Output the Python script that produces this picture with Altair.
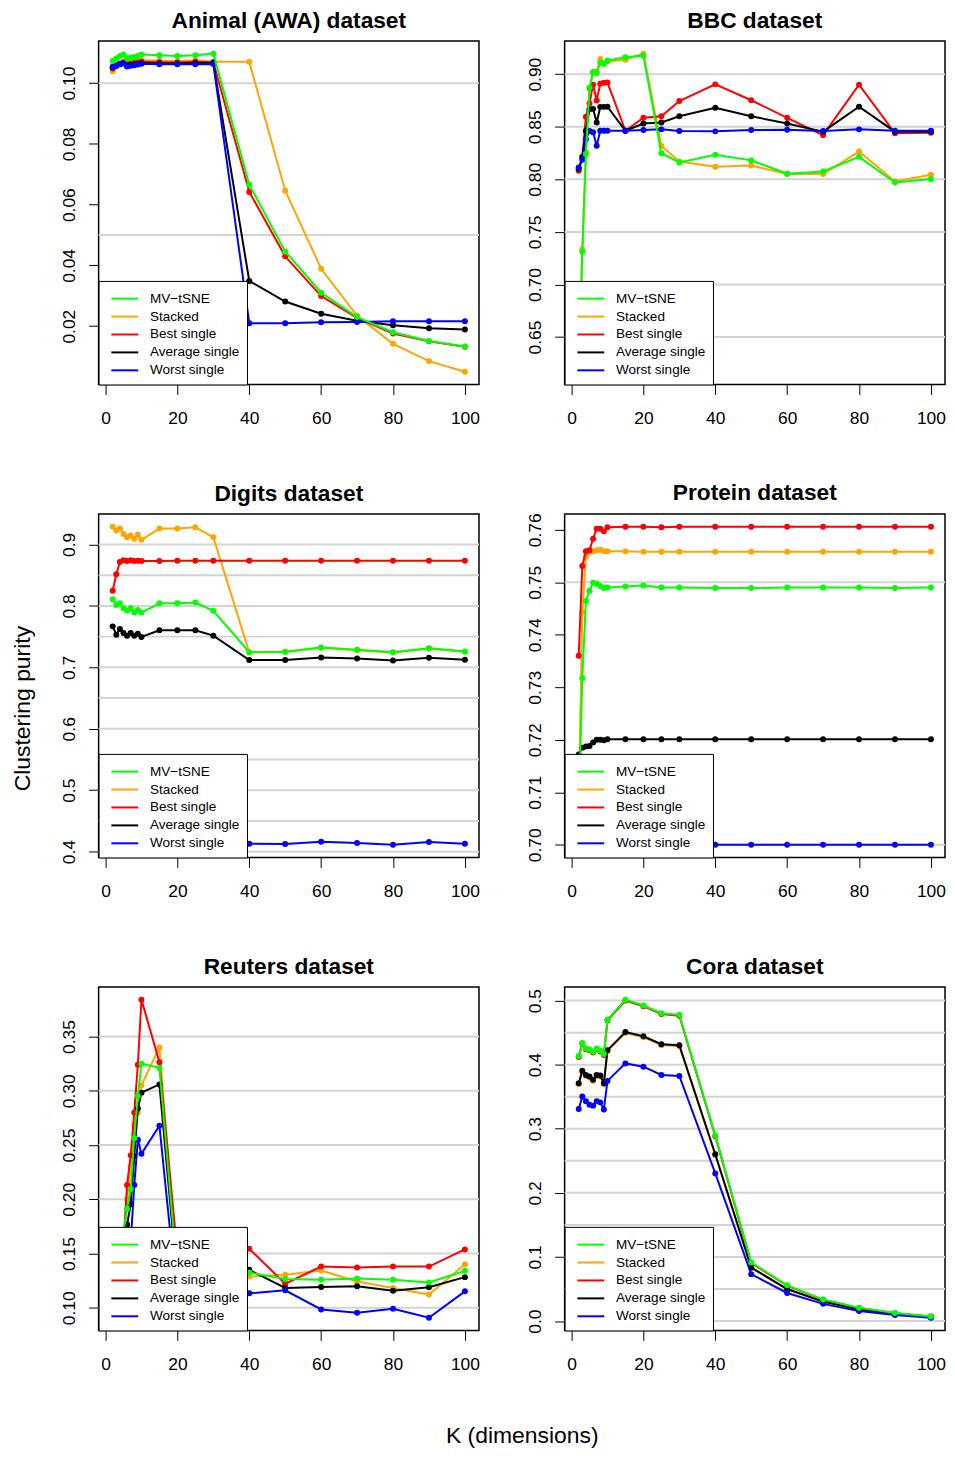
import numpy as np
import pandas as pd
import altair as alt

K = [2, 3, 4, 5, 6, 7, 8, 9, 10, 15, 20, 25, 30, 40, 50, 60, 70, 80, 90, 100]
METHODS = ["MV\u2212tSNE", "Stacked", "Best single", "Average single", "Worst single"]
COLORS = ["#00FF00", "#FFA500", "#FF0000", "#000000", "#0000FF"]
DRAW_ORDER = [1, 2, 3, 4, 0]

# Animal (AWA)
awa_mvtsne = [0.1073, 0.1081, 0.1089, 0.1094, 0.1081, 0.1084, 0.1086, 0.1089, 0.1094, 0.1092, 0.1089, 0.1092, 0.1097, 0.0666, 0.0446, 0.0310, 0.0230, 0.0180, 0.0151, 0.0133]
awa_stacked = [0.1040, 0.1055, 0.1065, 0.1072, 0.1068, 0.1070, 0.1071, 0.1073, 0.1076, 0.1074, 0.1073, 0.1075, 0.1070, 0.1070, 0.0646, 0.0389, 0.0234, 0.0142, 0.0085, 0.0050]
awa_best = [0.1048, 0.1058, 0.1064, 0.1068, 0.1062, 0.1064, 0.1066, 0.1068, 0.1070, 0.1069, 0.1068, 0.1070, 0.1069, 0.0642, 0.0430, 0.0299, 0.0227, 0.0176, 0.0150, 0.0132]
awa_avg = [0.1052, 0.1057, 0.1062, 0.1065, 0.1058, 0.1060, 0.1062, 0.1063, 0.1066, 0.1065, 0.1065, 0.1066, 0.1066, 0.0349, 0.0281, 0.0241, 0.0218, 0.0203, 0.0193, 0.0189]
awa_worst = [0.1054, 0.1058, 0.1063, 0.1066, 0.1055, 0.1057, 0.1059, 0.1061, 0.1064, 0.1062, 0.1062, 0.1062, 0.1063, 0.0210, 0.0210, 0.0213, 0.0214, 0.0216, 0.0216, 0.0216]

# BBC
bbc_mvtsne = [0.617, 0.731, 0.824, 0.887, 0.902, 0.901, 0.911, 0.910, 0.913, 0.916, 0.9176, 0.8248, 0.816, 0.8233, 0.818, 0.8053, 0.8075, 0.8214, 0.797, 0.8003]
bbc_stacked = [0.620, 0.7336, 0.826, 0.886, 0.901, 0.9025, 0.9145, 0.910, 0.912, 0.9138, 0.9195, 0.8318, 0.817, 0.812, 0.8132, 0.805, 0.805, 0.8264, 0.798, 0.8044]
bbc_best = [0.8082, 0.8217, 0.8594, 0.872, 0.890, 0.875, 0.891, 0.8918, 0.892, 0.8462, 0.8585, 0.860, 0.8745, 0.8903, 0.8752, 0.8585, 0.842, 0.890, 0.8437, 0.8443]
bbc_avg = [0.810, 0.8208, 0.8462, 0.8667, 0.867, 0.854, 0.8689, 0.8689, 0.869, 0.8462, 0.853, 0.854, 0.860, 0.868, 0.860, 0.853, 0.8453, 0.869, 0.8453, 0.8453]
bbc_worst = [0.8113, 0.8186, 0.838, 0.846, 0.8447, 0.832, 0.8462, 0.8462, 0.8462, 0.8462, 0.8469, 0.8475, 0.846, 0.8456, 0.8469, 0.8472, 0.846, 0.8475, 0.8462, 0.8462]

# Digits
dig_mvtsne = [0.8108, 0.8016, 0.8043, 0.7962, 0.7925, 0.7962, 0.7892, 0.7935, 0.7892, 0.8043, 0.8043, 0.8054, 0.7920, 0.7247, 0.7253, 0.7323, 0.7285, 0.7247, 0.7312, 0.7258]
dig_stacked = [0.9290, 0.9226, 0.9258, 0.9172, 0.9118, 0.9145, 0.9091, 0.9161, 0.9075, 0.9258, 0.9258, 0.9280, 0.9118, 0.7243, 0.7248, 0.7318, 0.7280, 0.7242, 0.7307, 0.7253]
dig_best = [0.8247, 0.8516, 0.8715, 0.8742, 0.8731, 0.8742, 0.8731, 0.8736, 0.8731, 0.8731, 0.8736, 0.8736, 0.8736, 0.8736, 0.8736, 0.8736, 0.8736, 0.8736, 0.8736, 0.8736]
dig_avg = [0.7667, 0.7532, 0.7624, 0.7559, 0.7516, 0.7559, 0.7516, 0.7548, 0.7495, 0.7602, 0.7602, 0.7602, 0.7516, 0.7118, 0.7118, 0.7161, 0.7145, 0.7113, 0.7156, 0.7124]
dig_worst = [0.4113, 0.4130, 0.4150, 0.4140, 0.4125, 0.4130, 0.4120, 0.4130, 0.4115, 0.4140, 0.4135, 0.4140, 0.4125, 0.4129, 0.4124, 0.4161, 0.4140, 0.4113, 0.4156, 0.4129]

# Protein
pro_mvtsne = [0.7060, 0.7317, 0.7465, 0.7484, 0.7499, 0.7497, 0.7493, 0.7489, 0.7490, 0.7492, 0.7494, 0.7490, 0.7490, 0.7489, 0.7489, 0.7490, 0.7490, 0.7490, 0.7489, 0.7490]
pro_stacked = [0.7085, 0.7443, 0.7549, 0.7558, 0.7559, 0.7561, 0.7562, 0.7559, 0.7559, 0.7559, 0.7558, 0.7558, 0.7558, 0.7558, 0.7558, 0.7558, 0.7558, 0.7558, 0.7558, 0.7558]
pro_best = [0.7360, 0.7531, 0.7559, 0.7561, 0.7583, 0.7602, 0.7602, 0.7597, 0.7605, 0.7606, 0.7606, 0.7605, 0.7606, 0.7606, 0.7606, 0.7606, 0.7606, 0.7606, 0.7606, 0.7606]
pro_avg = [0.7172, 0.7185, 0.7187, 0.7188, 0.7195, 0.7200, 0.7200, 0.7199, 0.7201, 0.7201, 0.7201, 0.7201, 0.7201, 0.7201, 0.7201, 0.7201, 0.7201, 0.7201, 0.7201, 0.7201]
pro_worst = [0.7003, 0.7004, 0.7003, 0.7002, 0.7002, 0.7001, 0.7001, 0.7001, 0.7001, 0.7000, 0.7000, 0.7000, 0.7000, 0.7000, 0.7000, 0.7000, 0.7000, 0.7000, 0.7000, 0.7000]

# Reuters
reu_mvtsne = [0.112, 0.125, 0.140, 0.170, 0.1910, 0.2095, 0.2563, 0.2953, 0.3250, 0.3211, 0.1290, 0.131, 0.132, 0.1325, 0.1265, 0.1259, 0.1271, 0.1259, 0.1234, 0.1341]
reu_stacked = [0.115, 0.128, 0.140, 0.158, 0.2000, 0.2300, 0.2680, 0.2800, 0.3050, 0.3400, 0.1300, 0.130, 0.129, 0.1289, 0.1304, 0.1344, 0.1243, 0.1182, 0.1122, 0.1401]
reu_best = [0.120, 0.132, 0.145, 0.160, 0.2131, 0.2405, 0.2800, 0.3240, 0.3840, 0.3263, 0.1496, 0.150, 0.152, 0.1544, 0.1222, 0.1380, 0.1371, 0.1380, 0.1380, 0.1538]
reu_avg = [0.105, 0.118, 0.132, 0.150, 0.1767, 0.1955, 0.2400, 0.2837, 0.2983, 0.3059, 0.1240, 0.130, 0.133, 0.1350, 0.1183, 0.1192, 0.1198, 0.1158, 0.1189, 0.1283]
reu_worst = [0.100, 0.108, 0.118, 0.130, 0.1450, 0.1600, 0.2131, 0.2550, 0.2420, 0.2679, 0.1050, 0.108, 0.110, 0.1134, 0.1161, 0.0985, 0.0954, 0.0991, 0.0909, 0.1152]

# Cora
cor_mvtsne = [0.4134, 0.4340, 0.4253, 0.4237, 0.4201, 0.4253, 0.4216, 0.4165, 0.4701, 0.5015, 0.4923, 0.4804, 0.4778, 0.2897, 0.0912, 0.0557, 0.0335, 0.0206, 0.0124, 0.0072]
cor_stacked = [0.3696, 0.3892, 0.3825, 0.3799, 0.3748, 0.3825, 0.3815, 0.3696, 0.4212, 0.4495, 0.4428, 0.4305, 0.4289, 0.2590, 0.0828, 0.0495, 0.0300, 0.0177, 0.0106, 0.0061]
cor_best = [0.4120, 0.4325, 0.4240, 0.4225, 0.4190, 0.4240, 0.4205, 0.4150, 0.4690, 0.5000, 0.4910, 0.4790, 0.4765, 0.2885, 0.0905, 0.0552, 0.0331, 0.0203, 0.0122, 0.0071]
cor_avg = [0.3711, 0.3907, 0.3840, 0.3814, 0.3763, 0.3840, 0.3830, 0.3711, 0.4227, 0.4510, 0.4443, 0.4320, 0.4304, 0.2603, 0.0835, 0.0500, 0.0304, 0.0180, 0.0108, 0.0062]
cor_worst = [0.3309, 0.3505, 0.3428, 0.3376, 0.3361, 0.3428, 0.3412, 0.3299, 0.3747, 0.4020, 0.3969, 0.3840, 0.3825, 0.2304, 0.0732, 0.0438, 0.0268, 0.0155, 0.0093, 0.0052]

TITLES = ["Animal (AWA) dataset", "BBC dataset", "Digits dataset", "Protein dataset", "Reuters dataset", "Cora dataset"]
SERIES = [
    [awa_mvtsne, awa_stacked, awa_best, awa_avg, awa_worst],
    [bbc_mvtsne, bbc_stacked, bbc_best, bbc_avg, bbc_worst],
    [dig_mvtsne, dig_stacked, dig_best, dig_avg, dig_worst],
    [pro_mvtsne, pro_stacked, pro_best, pro_avg, pro_worst],
    [reu_mvtsne, reu_stacked, reu_best, reu_avg, reu_worst],
    [cor_mvtsne, cor_stacked, cor_best, cor_avg, cor_worst],
]
YTICKS = [
    [0.02, 0.04, 0.06, 0.08, 0.10],
    [0.65, 0.70, 0.75, 0.80, 0.85, 0.90],
    [0.4, 0.5, 0.6, 0.7, 0.8, 0.9],
    [0.70, 0.71, 0.72, 0.73, 0.74, 0.75, 0.76],
    [0.10, 0.15, 0.20, 0.25, 0.30, 0.35],
    [0.0, 0.1, 0.2, 0.3, 0.4, 0.5],
]
YFMT = [".2f", ".2f", ".1f", ".2f", ".2f", ".1f"]
XTICKS = [0, 20, 40, 60, 80, 100]

FONT = "Liberation Sans, Arial, Helvetica, sans-serif"
W, H = 382, 345


def make_panel(i):
    series = SERIES[i]
    rows = []
    for m, vals in zip(METHODS, series):
        for k, v in zip(K, vals):
            rows.append({"K": k, "method": m, "value": v})
    df = pd.DataFrame(rows)
    lo = min(min(s) for s in series)
    hi = max(max(s) for s in series)
    pad = 0.04 * (hi - lo)
    ydom = [lo - pad, hi + pad]
    xpad = 0.04 * (max(K) - min(K))
    xdom = [min(K) - xpad, max(K) + xpad]
    grid_vals = [round(float(g), 2) for g in np.arange(0, 1.0001, 0.05) if ydom[0] <= g <= ydom[1]]
    grid_df = pd.DataFrame({"value": grid_vals})

    if i == 2:
        ytitle = dict(title="Clustering purity", titleFontSize=23, titleFont=FONT,
                      titleFontWeight="normal", titleColor="black", titleX=-76, titleY=195,
                      titleAngle=270, titleAlign="center", titleBaseline="middle")
    else:
        ytitle = dict(title=None)
    if i == 4:
        xtitle = dict(title="K (dimensions)", titleFontSize=23, titleFont=FONT,
                      titleFontWeight="normal", titleColor="black", titleX=425, titleY=106,
                      titleAlign="center", titleBaseline="middle")
    else:
        xtitle = dict(title=None)

    yaxis = alt.Axis(values=YTICKS[i], format=YFMT[i], labelAngle=270, labelAlign="center",
                     labelBaseline="alphabetic", labelPadding=14, tickSize=10, tickColor="black",
                     tickWidth=1, labelColor="black", labelFontSize=17.5, labelFont=FONT,
                     domain=False, grid=False, labelOverlap=False, labelFlush=False, **ytitle)
    xaxis = alt.Axis(values=XTICKS, tickSize=10, tickColor="black", tickWidth=1,
                     labelColor="black", labelFontSize=17.5, labelFont=FONT, labelPadding=15,
                     domain=False, grid=False, labelOverlap=False, labelFlush=False, **xtitle)
    yscale = alt.Scale(domain=ydom, nice=False, zero=False)
    xscale = alt.Scale(domain=xdom, nice=False, zero=False)

    legend = alt.Legend(title=" ", titleFontSize=1, titlePadding=3,
                        orient="bottom-left", offset=0, padding=7, rowPadding=3,
                        fillColor="white", strokeColor="black", labelFontSize=13.6,
                        labelFont=FONT, labelColor="black", labelOffset=31,
                        symbolType="M-0.2,0H5.2", symbolSize=100, symbolStrokeWidth=2,
                        labelLimit=300)
    color = alt.Color("method:N", scale=alt.Scale(domain=METHODS, range=COLORS), legend=legend)

    base = alt.Chart(df)
    layers = [alt.Chart(grid_df).mark_rule(color="#d3d3d3", strokeWidth=2).encode(
        y=alt.Y("value:Q", scale=yscale, axis=yaxis))]
    for idx in DRAW_ORDER:
        m = METHODS[idx]
        sub = base.transform_filter(alt.datum.method == m)
        layers.append(sub.mark_line(strokeWidth=2).encode(
            x=alt.X("K:Q", scale=xscale, axis=xaxis),
            y=alt.Y("value:Q", scale=yscale, axis=yaxis),
            color=color))
        layers.append(sub.mark_circle(size=36, opacity=1, color=COLORS[idx]).encode(
            x=alt.X("K:Q", scale=xscale, axis=xaxis),
            y=alt.Y("value:Q", scale=yscale, axis=yaxis)))
    title = alt.TitleParams(TITLES[i], fontSize=22.8, fontWeight="bold", font=FONT,
                            color="black", anchor="middle", baseline="alphabetic", offset=-10,
                            frame="group")
    return alt.layer(*layers).properties(width=W, height=H, title=title)


panels = [make_panel(i) for i in range(6)]

chart = alt.concat(*panels, columns=2, spacing={"row": 130, "column": 86}, bounds="flush").resolve_scale(
    color="independent").resolve_legend(color="independent").properties(
    padding={"left": 3, "top": -2, "right": 0, "bottom": 0},
    background="white"
).configure_view(stroke="black", strokeWidth=1.5)

chart.save("out.html", embed_options={"renderer": "svg", "actions": False})
